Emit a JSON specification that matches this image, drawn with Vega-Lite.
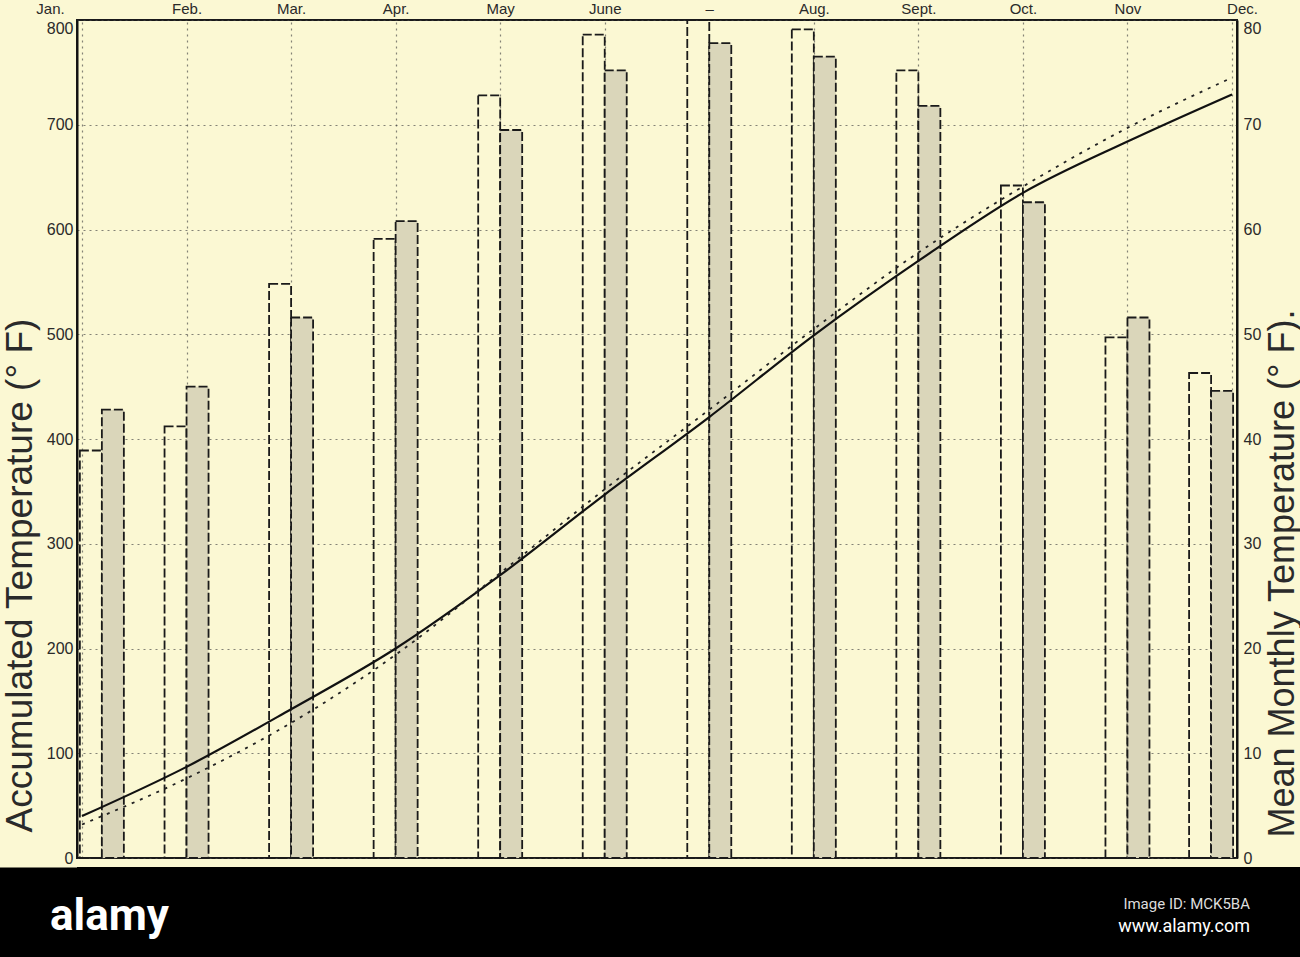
{
  "$schema": "https://vega.github.io/schema/vega-lite/v6.json",
  "padding": 0,
  "background": "#fbf8d3",
  "spacing": 0,
  "config": {
    "font": "Liberation Sans",
    "view": {"stroke": "#1a1a1a", "strokeWidth": 2}
  },
  "datasets": {
    "months": [
      {"m": 1, "month": "Jan.", "bar_pos": 1.19, "mean_white": 38.9, "mean_stippled": 42.8, "acc_solid": 40, "acc_dotted": 32},
      {"m": 2, "month": "Feb.", "bar_pos": 2, "mean_white": 41.2, "mean_stippled": 45.0, "acc_solid": 87, "acc_dotted": 76},
      {"m": 3, "month": "Mar.", "bar_pos": 3, "mean_white": 54.8, "mean_stippled": 51.6, "acc_solid": 142, "acc_dotted": 129},
      {"m": 4, "month": "Apr.", "bar_pos": 4, "mean_white": 59.1, "mean_stippled": 60.8, "acc_solid": 200, "acc_dotted": 194},
      {"m": 5, "month": "May", "bar_pos": 5, "mean_white": 72.8, "mean_stippled": 69.5, "acc_solid": 270, "acc_dotted": 272},
      {"m": 6, "month": "June", "bar_pos": 6, "mean_white": 78.6, "mean_stippled": 75.2, "acc_solid": 347, "acc_dotted": 352},
      {"m": 7, "month": "–", "bar_pos": 7, "mean_white": 80.0, "mean_stippled": 77.8, "acc_solid": 421, "acc_dotted": 428},
      {"m": 8, "month": "Aug.", "bar_pos": 8, "mean_white": 79.1, "mean_stippled": 76.5, "acc_solid": 499, "acc_dotted": 505},
      {"m": 9, "month": "Sept.", "bar_pos": 9, "mean_white": 75.2, "mean_stippled": 71.8, "acc_solid": 570, "acc_dotted": 578},
      {"m": 10, "month": "Oct.", "bar_pos": 10, "mean_white": 64.2, "mean_stippled": 62.6, "acc_solid": 635, "acc_dotted": 641},
      {"m": 11, "month": "Nov", "bar_pos": 11, "mean_white": 49.7, "mean_stippled": 51.6, "acc_solid": 684, "acc_dotted": 697},
      {"m": 12, "month": "Dec.", "bar_pos": 11.8, "mean_white": 46.3, "mean_stippled": 44.6, "acc_solid": 729, "acc_dotted": 745}
    ]
  },
  "vconcat": [
    {
      "width": 1160,
      "height": 838,
      "data": {"name": "months"},
      "layer": [
        {
          "layer": [
            {
              "mark": {"type": "bar", "width": 22, "xOffset": -11, "fill": "#fbf8d3", "fillOpacity": 0, "stroke": "#1a1a1a", "strokeWidth": 1.8, "strokeDash": [9, 3]},
              "encoding": {
                "x": {
                  "field": "bar_pos", "type": "quantitative",
                  "scale": {"domain": [1, 12], "nice": false, "zero": false},
                  "axis": {
                    "orient": "top", "title": null, "values": [1,2,3,4,5,6,7,8,9,10,11,12],
                    "labelExpr": "['Jan.','Feb.','Mar.','Apr.','May','June','–','Aug.','Sept.','Oct.','Nov','Dec.'][datum.value-1]",
                    "labelOffset": {"condition": [{"test": "datum.value == 1", "value": -32}, {"test": "datum.value == 12", "value": 10}], "value": 0},
                    "labelFontSize": 15, "labelColor": "#2a2a2a", "labelPadding": 4,
                    "ticks": false, "domain": false,
                    "grid": true, "gridColor": "#444", "gridDash": [2, 4], "gridOpacity": 0.65, "gridWidth": 1.2
                  }
                },
                "y": {
                  "field": "mean_white", "type": "quantitative",
                  "scale": {"domain": [0, 80], "nice": false},
                  "axis": {
                    "orient": "right", "values": [0,10,20,30,40,50,60,70,80],
                    "title": "Mean Monthly Temperature (° F).",
                    "titleAngle": -90, "titleX": 45, "titleY": 553, "titleAlign": "center", "titleBaseline": "middle",
                    "titleFontSize": 36, "titleFontWeight": "normal", "titleColor": "#2a2a2a",
                    "labelFontSize": 16, "labelColor": "#2a2a2a", "labelPadding": 6,
                    "labelBaseline": {"condition": {"test": "datum.value == 80", "value": "top"}, "value": "middle"},
                    "ticks": false, "grid": false,
                    "domain": true, "domainColor": "#111", "domainWidth": 2
                  }
                }
              }
            },
            {
              "mark": {"type": "bar", "width": 22, "xOffset": 11, "fill": "#dad6ba", "stroke": "#1a1a1a", "strokeWidth": 1.8, "strokeDash": [9, 3]},
              "encoding": {
                "x": {"field": "bar_pos", "type": "quantitative"},
                "y": {"field": "mean_stippled", "type": "quantitative"}
              }
            }
          ]
        },
        {
          "layer": [
            {
              "mark": {"type": "line", "interpolate": "monotone", "stroke": "#111", "strokeWidth": 2.2},
              "encoding": {
                "x": {"field": "m", "type": "quantitative"},
                "y": {
                  "field": "acc_solid", "type": "quantitative",
                  "scale": {"domain": [0, 800], "nice": false},
                  "axis": {
                    "orient": "left", "values": [0,100,200,300,400,500,600,700,800],
                    "title": "Accumulated Temperature (° F)",
                    "titleAngle": -90, "titleX": -57, "titleY": 555, "titleAlign": "center", "titleBaseline": "middle",
                    "titleFontSize": 37, "titleFontWeight": "normal", "titleColor": "#2a2a2a",
                    "labelFontSize": 16, "labelColor": "#2a2a2a", "labelPadding": 4,
                    "labelBaseline": {"condition": {"test": "datum.value == 800", "value": "top"}, "value": "middle"},
                    "ticks": false,
                    "grid": true, "gridColor": "#444", "gridDash": [2, 4], "gridOpacity": 0.65, "gridWidth": 1.2,
                    "domain": true, "domainColor": "#111", "domainWidth": 2
                  }
                }
              }
            },
            {
              "mark": {"type": "line", "interpolate": "monotone", "stroke": "#222", "strokeWidth": 1.8, "strokeDash": [3, 6]},
              "encoding": {
                "x": {"field": "m", "type": "quantitative"},
                "y": {"field": "acc_dotted", "type": "quantitative"}
              }
            }
          ]
        }
      ],
      "resolve": {"scale": {"y": "independent"}}
    },
    {
      "spacing": 0,
      "hconcat": [
        {
          "width": 1023,
          "height": 91,
          "view": {"fill": "#000000", "stroke": null},
          "data": {"values": []},
          "mark": "rect",
          "encoding": {
            "y": {
              "field": "v", "type": "quantitative", "scale": {"domain": [0, 1]},
              "axis": {"orient": "left", "title": null, "labels": false, "ticks": false, "grid": false, "domain": true, "domainColor": "#000000", "domainWidth": 160, "domainCap": "butt"}
            }
          },
          "title": {"text": "alamy", "anchor": "start", "orient": "top", "offset": -72, "dx": -27, "color": "#ffffff", "fontSize": 44, "font": "Roboto", "fontWeight": "bold"}
        },
        {
          "width": 200,
          "height": 91,
          "view": {"fill": "#000000", "stroke": null},
          "data": {"values": []},
          "mark": "rect",
          "title": {"text": "Image ID: MCK5BA", "subtitle": "www.alamy.com", "anchor": "end", "orient": "top", "offset": -69, "dx": -50, "color": "#dddddd", "fontSize": 15, "font": "Roboto", "fontWeight": "normal", "subtitleColor": "#ffffff", "subtitleFontSize": 18, "subtitleFont": "Roboto", "subtitlePadding": 6}
        }
      ]
    }
  ]
}
